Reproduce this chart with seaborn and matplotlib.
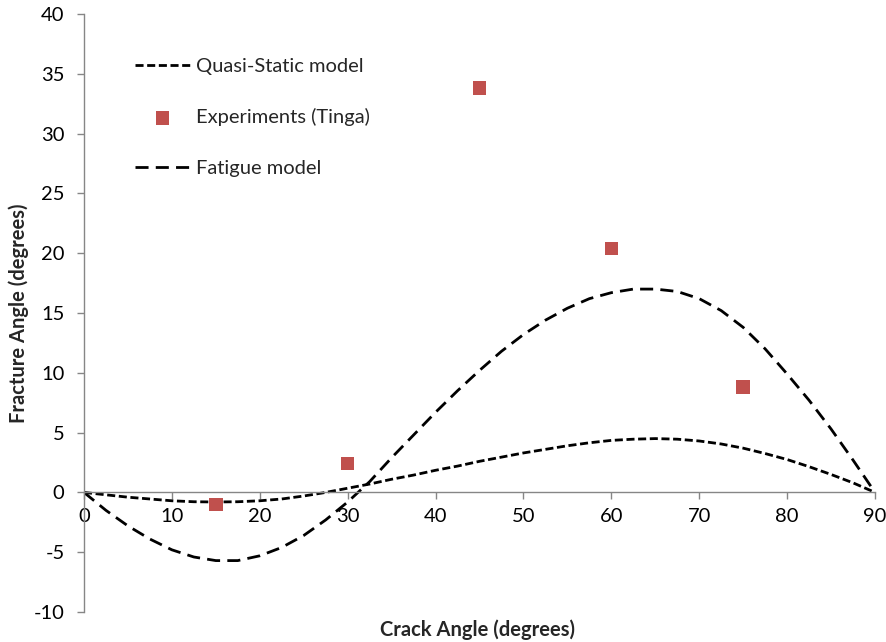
import matplotlib
matplotlib.use("Agg")
import matplotlib.pyplot as plt
import seaborn as sns

# values
crack_angle = [0, 2.5, 5, 7.5, 10, 12.5, 15, 17.5, 20, 22.5, 25, 27.5, 30, 32.5, 35, 37.5, 40, 42.5,
               45, 47.5, 50, 52.5, 55, 57.5, 60, 62.5, 65, 67.5, 70, 72.5, 75, 77.5, 80, 82.5, 85, 87.5, 90]
quasi_static = [0, -0.2, -0.4, -0.55, -0.7, -0.78, -0.8, -0.78, -0.7, -0.55, -0.3, 0.0, 0.35, 0.7,
                1.1, 1.45, 1.85, 2.2, 2.6, 2.95, 3.3, 3.6, 3.9, 4.15, 4.35, 4.45, 4.5, 4.45, 4.3,
                4.05, 3.7, 3.25, 2.75, 2.15, 1.5, 0.8, 0]
fatigue = [0, -1.5, -2.8, -3.9, -4.8, -5.4, -5.7, -5.7, -5.3, -4.6, -3.6, -2.3, -0.8, 0.9, 2.9,
           4.8, 6.7, 8.5, 10.2, 11.8, 13.2, 14.4, 15.4, 16.2, 16.7, 17.0, 17.0, 16.8, 16.2, 15.2,
           13.8, 12.0, 9.9, 7.7, 5.3, 2.7, 0]

exp_angle = [15, 30, 45, 60, 75]
exp_fracture = [-1.0, 2.4, 33.8, 20.4, 8.8]

sns.set_style("white")
plt.rcParams['font.family'] = ['Lato', 'DejaVu Sans']
plt.rcParams['axes.unicode_minus'] = False

fig = plt.figure(figsize=(8.87, 6.42), dpi=100)
ax = fig.add_axes([0.0947, 0.0467, 0.8918, 0.9315])

sns.lineplot(x=crack_angle, y=quasi_static, color="black", lw=2.0, label="Quasi-Static model", ax=ax)
ax.lines[-1].set_dashes((2.9, 1.3))
sns.scatterplot(x=exp_angle, y=exp_fracture, color="#C0504D", marker="s", s=95,
                edgecolor="none", label="Experiments (Tinga)", ax=ax, zorder=3)
sns.lineplot(x=crack_angle, y=fatigue, color="black", lw=2.0, label="Fatigue model", ax=ax)
ax.lines[-1].set_dashes((4.7, 2.6))

ax.set_xlim(0, 90)
ax.set_ylim(-10, 40)
ax.set_xticks(range(0, 91, 10))
ax.set_yticks(range(-10, 41, 5))

gray = "#868686"
ax.spines['bottom'].set_position(('data', 0))
ax.spines['top'].set_visible(False)
ax.spines['right'].set_visible(False)
for s in ('left', 'bottom'):
    ax.spines[s].set_color(gray)
    ax.spines[s].set_linewidth(1.0)
ax.tick_params(axis='both', direction='out', length=5, width=1, color=gray,
               labelsize=14.5, labelcolor="black", bottom=True, left=True)
ax.tick_params(axis='x', pad=6)
ax.tick_params(axis='y', pad=9)

ax.set_xlabel("Crack Angle (degrees)", fontsize=14.5, fontweight="bold")
ax.set_ylabel("Fracture Angle (degrees)", fontsize=14.5, fontweight="bold")
ax.xaxis.set_label_coords(0.497, -0.012)
ax.yaxis.set_label_coords(-0.070, 0.5)

leg = ax.legend(loc="upper left", bbox_to_anchor=(0.042, 0.957), frameon=False,
                fontsize=14.5, handlelength=2.7, handletextpad=0.3, labelspacing=1.65)

fig.savefig("out.png", dpi=100)
